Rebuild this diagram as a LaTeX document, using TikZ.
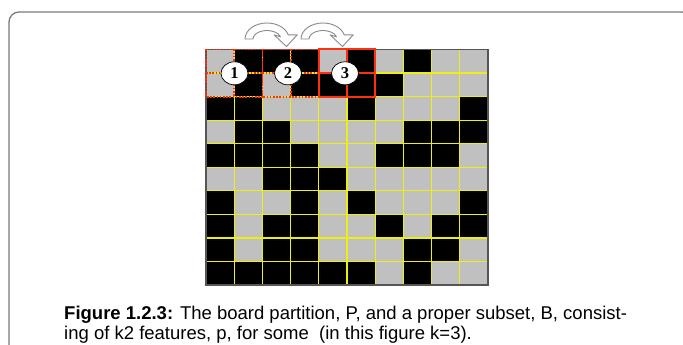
\documentclass[tikz,border=0pt]{standalone}
\usepackage{fontspec}
\usetikzlibrary{shapes.geometric}
\setmainfont{Liberation Sans}
\newfontfamily\numfont{Liberation Serif}
\definecolor{framec}{HTML}{7A7A7A}
\definecolor{cellgray}{HTML}{C0C0C0}
\definecolor{gridyel}{HTML}{EEEE10}
\definecolor{boxred}{HTML}{FF3010}
\definecolor{arrowc}{HTML}{8A8A8A}
\definecolor{bordc}{HTML}{555555}
\tikzset{
  gridline/.style={gridyel, line width=1.3pt},
  dotbox/.style={boxred, line width=1.8pt, dash pattern=on 1.6pt off 1.6pt},
  solidbox/.style={boxred, line width=2pt},
  numcircle/.style={ellipse, draw=black, line width=0.7pt, fill=white, minimum width=27pt, minimum height=23pt, inner sep=0pt, font=\numfont\bfseries\fontsize{16.5}{16.5}\selectfont},
  bentarrow/.style={draw=arrowc, line width=0.9pt, fill=white, line join=round},
  captext/.style={anchor=base west, inner sep=0pt, font=\fontsize{18.5}{20}\selectfont}
}
\begin{document}
\begin{tikzpicture}[x=1pt,y=-1pt]
\useasboundingbox (0,0) rectangle (683,345);
\clip (0,0) rectangle (683,345);
\fill[white] (0,0) rectangle (683,345);
\draw[framec, line width=1.3pt, rounded corners=10pt] (9,12) rectangle (692,360);
\def\cw{28.2}
\def\ch{23.55}
\fill[cellgray] (206,49.5) rectangle (488,285);
\foreach \row [count=\r from 0] in {
  {0,1,1,1,0,1,0,1,0,0},
  {0,1,0,1,1,1,1,0,0,0},
  {1,1,0,0,0,1,0,0,0,1},
  {0,1,1,0,0,0,0,1,1,1},
  {1,1,1,1,0,0,1,1,1,0},
  {0,0,1,1,1,0,0,0,0,0},
  {1,0,0,1,0,1,0,0,0,1},
  {1,0,1,1,0,0,1,0,1,1},
  {1,0,1,1,0,0,0,1,1,0},
  {1,1,1,1,1,1,0,1,0,0}} {
  \foreach \v [count=\c from 0] in \row {
    \ifnum\v=1
      \fill[black] ({206+\c*\cw},{49.5+\r*\ch}) rectangle ({206+(\c+1)*\cw},{49.5+(\r+1)*\ch});
    \fi
  }
}
\foreach \i in {1,...,9} {
  \draw[gridline] ({206+\i*\cw},49.5) -- ({206+\i*\cw},285);
  \draw[gridline] (206,{49.5+\i*\ch}) -- (488,{49.5+\i*\ch});
}
\draw[bordc, line width=1.4pt] (206,49.5) rectangle (488,285);
\draw[dotbox] (206,49.5) rectangle (262.4,96.6);
\draw[dotbox] (234.2,49.5) -- (234.2,96.6);
\draw[dotbox] (206,73.05) -- (262.4,73.05);
\draw[dotbox] (262.4,49.5) rectangle (318.8,96.6);
\draw[dotbox] (290.6,49.5) -- (290.6,96.6);
\draw[dotbox] (262.4,73.05) -- (318.8,73.05);
\draw[solidbox] (318.8,49.5) rectangle (375.2,96.6);
\draw[solidbox] (347,49.5) -- (347,96.6);
\draw[solidbox] (318.8,73.05) -- (375.2,73.05);
\node[numcircle] (c1) at (234.5,73.3) {1};
\node[numcircle] (c2) at (288,73.3) {2};
\node[numcircle] (c3) at (345,73.3) {3};
\foreach \cx in {267,323} {
  \draw[bentarrow] (\cx-22,39) arc[start angle=180, end angle=345, x radius=22, y radius=16]
     -- ++(9,0) -- (\cx+19.5,46.5) -- (\cx+7,{39-16*sin(15)}) -- ({\cx+14*cos(15)},{39-8.5*sin(15)})
     arc[start angle=345, end angle=180, x radius=14, y radius=8.5] -- cycle;
}
\node[captext] (cap1) at (64,319) {\textbf{Figure 1.2.3:} The board partition, P, and a proper subset, B, consist-};
\node[captext] (cap2) at (64,339.5) {ing of k2 features, p, for some\ \ (in this figure k=3).};
\end{tikzpicture}
\end{document}
